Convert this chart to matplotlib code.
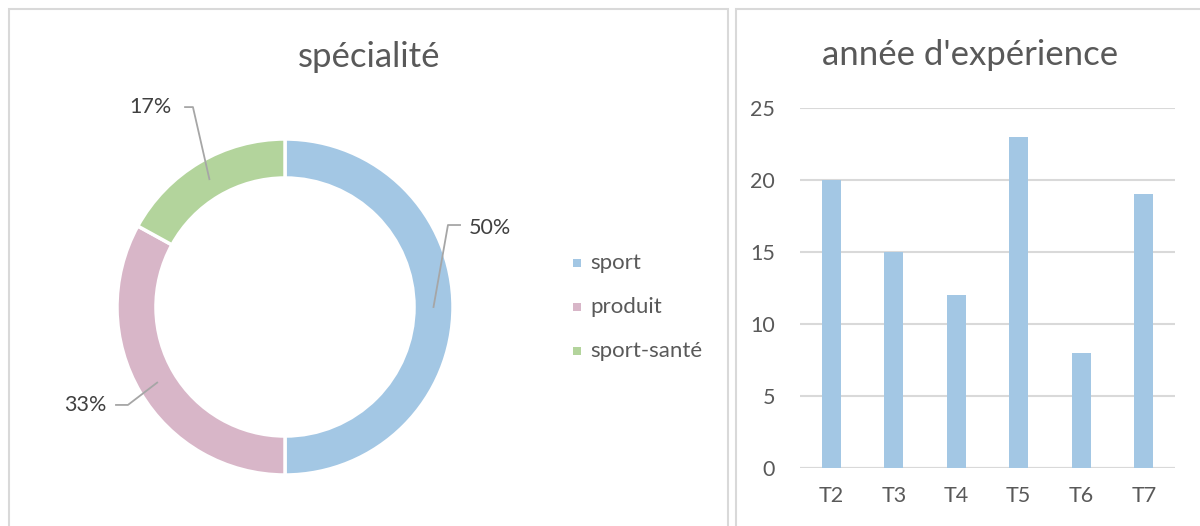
import numpy as np
import matplotlib
matplotlib.use("Agg")
import matplotlib.pyplot as plt
from matplotlib.patches import Rectangle

plt.rcParams['font.family'] = ['Lato', 'DejaVu Sans']

# Data
spec_labels = ["sport", "produit", "sport-santé"]
spec_values = [50, 33, 17]
spec_colors = ["#A3C7E4", "#D8B6C8", "#B3D49C"]

exp_categories = ["T2", "T3", "T4", "T5", "T6", "T7"]
exp_values = [20, 15, 12, 23, 8, 19]
exp_ticks = [0, 5, 10, 15, 20, 25]

TEXT = "#595959"
GRID = "#D9D9D9"
W, H = 1200, 526

fig = plt.figure(figsize=(W / 100, H / 100), dpi=100)


def fx(px):
    return px / W


def fy(py):
    return 1 - py / H


# Panel frames
fig.patches.append(Rectangle((fx(9), fy(540)), fx(728 - 9), (540 - 9) / H,
                             transform=fig.transFigure, fill=False,
                             edgecolor=GRID, linewidth=1.5))
fig.patches.append(Rectangle((fx(736), fy(540)), fx(1215 - 736), (540 - 9) / H,
                             transform=fig.transFigure, fill=False,
                             edgecolor=GRID, linewidth=1.5))

# ---- Donut chart ----
cx, cy, R = 285, 307, 168
ax1 = fig.add_axes([fx(cx - R), fy(cy + R), fx(2 * R), 2 * R / H])
wedges, _ = ax1.pie(spec_values, colors=spec_colors, startangle=90,
                    counterclock=False, radius=1.0,
                    wedgeprops=dict(width=0.232, edgecolor="white", linewidth=2.5))
ax1.set_xlim(-1, 1)
ax1.set_ylim(-1, 1)
ax1.set_aspect('equal')
ax1.axis('off')

# Percentage labels with leader lines
total = sum(spec_values)
label_pos = {
    0: dict(text=(1.095, 0.47), elbow=(0.970, 0.488), start=(1.042, 0.488), ha='left'),
    1: dict(text=(-1.19, -0.583), elbow=(-0.935, -0.583), start=(-1.006, -0.583), ha='center'),
    2: dict(text=(-0.804, 1.19), elbow=(-0.548, 1.19), start=(-0.595, 1.19), ha='center'),
}
rmid = 1.0 - 0.232 / 2
for i, w in enumerate(wedges):
    ang = np.deg2rad((w.theta1 + w.theta2) / 2)
    px, py = rmid * np.cos(ang), rmid * np.sin(ang)
    p = label_pos[i]
    ax1.plot([p['start'][0], p['elbow'][0], px], [p['start'][1], p['elbow'][1], py],
             color="#A6A6A6", linewidth=1.3, clip_on=False)
    pct = f"{round(100 * spec_values[i] / total)}%"
    ax1.text(p['text'][0], p['text'][1], pct, ha=p['ha'], va='center',
             fontsize=15.5, color="#404040", clip_on=False)

fig.text(fx(369), fy(57), "spécialité", ha='center', va='center',
         fontsize=25, color=TEXT)

# Legend
for i, lab in enumerate(spec_labels):
    y = 263 + 44 * i
    fig.patches.append(Rectangle((fx(573), fy(y + 4)), fx(8), 8 / H,
                                 transform=fig.transFigure, facecolor=spec_colors[i],
                                 edgecolor='none'))
    fig.text(fx(590), fy(y), lab, ha='left', va='center', fontsize=16, color=TEXT)

# ---- Bar chart ----
ax2 = fig.add_axes([fx(800), fy(468), fx(1175 - 800), (468 - 108) / H])
x = np.arange(len(exp_categories))
ax2.bar(x, exp_values, width=0.31, color="#A3C7E4", zorder=3)
ax2.set_xlim(-0.5, len(exp_categories) - 0.5)
ax2.set_ylim(0, 25)
ax2.set_yticks(exp_ticks)
ax2.set_xticks(x)
ax2.set_xticklabels(exp_categories)
ax2.grid(axis='y', color=GRID, linewidth=1.5, zorder=0)
for s in ax2.spines.values():
    s.set_visible(False)
ax2.tick_params(axis='both', length=0, labelsize=15.5, labelcolor=TEXT)
ax2.tick_params(axis='y', pad=18)
ax2.tick_params(axis='x', pad=13)
ax2.axhline(0, color=GRID, linewidth=1.5, zorder=2)

fig.text(fx(970), fy(55), "année d'expérience", ha='center', va='center',
         fontsize=25, color=TEXT)

fig.savefig("out.png", dpi=100)
